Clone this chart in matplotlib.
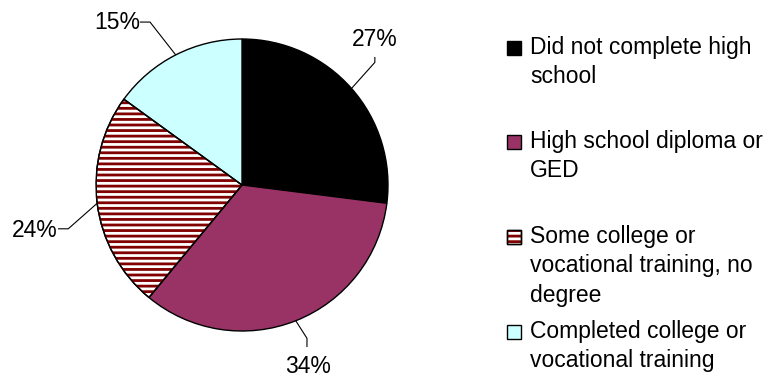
import numpy as np
import matplotlib
matplotlib.use("Agg")
import matplotlib.pyplot as plt
from matplotlib.patches import Rectangle, Wedge

plt.rcParams['font.family'] = ['Liberation Sans', 'DejaVu Sans']
plt.rcParams['hatch.linewidth'] = 2.0

categories = [
    "Did not complete high\nschool",
    "High school diploma or\nGED",
    "Some college or\nvocational training, no\ndegree",
    "Completed college or\nvocational training",
]
shares = [27, 34, 24, 15]
colors = ['#000000', '#993366', '#ffffff', '#ccffff']
hatches = [None, None, '---', None]
stripe_color = '#800000'

W, H = 770, 379
fig = plt.figure(figsize=(W / 100, H / 100), dpi=100)

# pie axes: centre (242, 185) px, radius 146 px
cx, cy, r = 242, 185, 146
ax = fig.add_axes([(cx - r) / W, (H - cy - r) / H, 2 * r / W, 2 * r / H])

wedges, _ = ax.pie(shares, colors=colors, startangle=90, counterclock=False,
                   radius=1, wedgeprops=dict(edgecolor='black', linewidth=1.0))

# horizontal stripes for the hatched slice, outline drawn again on top
for w, h in zip(wedges, hatches):
    if h:
        ax.add_patch(Wedge((0, 0), 1, w.theta1, w.theta2, facecolor='none',
                           edgecolor=stripe_color, hatch=h, linewidth=0))
        ax.add_patch(Wedge((0, 0), 1, w.theta1, w.theta2, facecolor='none',
                           edgecolor='black', linewidth=1.0))

ax.set_xlim(-1, 1)
ax.set_ylim(-1, 1)
ax.set_aspect('equal')
ax.axis('off')

# leader elbows and label positions (data units)
elbows = [(0.91, 0.84), (0.445, -1.05), (-1.19, -0.30), (-0.63, 1.116)]
ends = [(0.91, 0.877), (0.445, -1.11), (-1.26, -0.30), (-0.70, 1.116)]
label_pos = [(0.91, 0.995, 'center'), (0.452, -1.245, 'center'),
             (-1.265, -0.31, 'right'), (-0.70, 1.11, 'right')]

for w, s, e, t, lp in zip(wedges, shares, elbows, ends, label_pos):
    mid = np.deg2rad((w.theta1 + w.theta2) / 2)
    sx, sy = np.cos(mid), np.sin(mid)
    ax.plot([sx, e[0], t[0]], [sy, e[1], t[1]], color='black', lw=0.8,
            clip_on=False, solid_capstyle='butt')
    ax.text(lp[0], lp[1], f"{s}%", ha=lp[2], va='center', fontsize=16.5,
            clip_on=False)

# legend drawn by hand so the swatch sits on the first line
first_line_y = [48, 142, 237, 332]
for lab, col, h, y in zip(categories, colors, hatches, first_line_y):
    box = ((507 / W, 1 - (y + 7) / H), 14 / W, 14 / H)
    fig.add_artist(Rectangle(*box, transform=fig.transFigure, facecolor=col,
                             edgecolor='black', linewidth=1.0))
    if h:
        fig.add_artist(Rectangle(*box, transform=fig.transFigure, facecolor='none',
                                 edgecolor=stripe_color, hatch=h, linewidth=0))
        fig.add_artist(Rectangle(*box, transform=fig.transFigure, facecolor='none',
                                 edgecolor='black', linewidth=1.0))
    fig.text(530 / W, 1 - (y - 12) / H, lab, ha='left', va='top',
             fontsize=16.5, linespacing=1.36)

fig.savefig('out.png', dpi=100)
